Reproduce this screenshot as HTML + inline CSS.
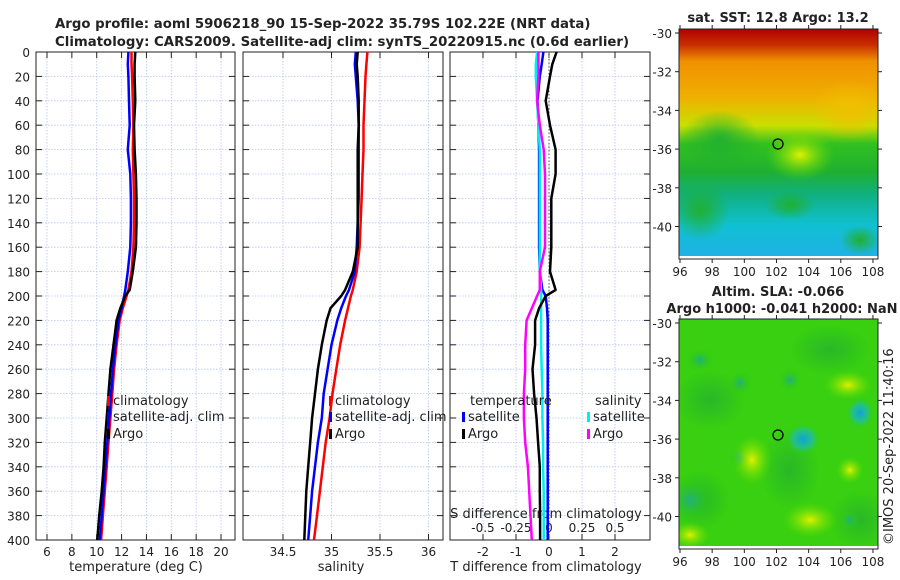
<!DOCTYPE html>
<html><head><meta charset="utf-8"><style>
body{margin:0;background:#fff;width:900px;height:580px;overflow:hidden}
svg{display:block;font-family:"DejaVu Sans","Liberation Sans",sans-serif}
text{fill:#222}
</style></head><body>
<svg id="s" width="900" height="580">
<defs>
<linearGradient id="sstg" x1="0" y1="0" x2="0" y2="1">
<stop offset="0" stop-color="#b00000"/><stop offset="0.07" stop-color="#c83000"/><stop offset="0.14" stop-color="#f09000"/><stop offset="0.3" stop-color="#f0b000"/><stop offset="0.42" stop-color="#c8e000"/><stop offset="0.5" stop-color="#30c020"/><stop offset="0.62" stop-color="#20b030"/><stop offset="0.72" stop-color="#10b080"/><stop offset="0.85" stop-color="#10c0d0"/><stop offset="1" stop-color="#20b0e8"/>
</linearGradient>
<radialGradient id="bl"><stop offset="0" stop-color="#10a0e0"/><stop offset="0.6" stop-color="#20c0a0" stop-opacity="0.7"/><stop offset="1" stop-color="#30d000" stop-opacity="0"/></radialGradient>
<radialGradient id="tl"><stop offset="0" stop-color="#20b080"/><stop offset="1" stop-color="#30d000" stop-opacity="0"/></radialGradient>
<radialGradient id="yl"><stop offset="0" stop-color="#e0f000"/><stop offset="1" stop-color="#60e000" stop-opacity="0"/></radialGradient>
<radialGradient id="yo"><stop offset="0" stop-color="#f0c000"/><stop offset="1" stop-color="#f0c000" stop-opacity="0"/></radialGradient>
<radialGradient id="gr"><stop offset="0" stop-color="#20b030"/><stop offset="1" stop-color="#20b030" stop-opacity="0"/></radialGradient>
<radialGradient id="dg"><stop offset="0" stop-color="#28b828"/><stop offset="1" stop-color="#28b828" stop-opacity="0"/></radialGradient>
<clipPath id="c1"><rect x="679" y="29" width="199" height="230"/></clipPath>
<clipPath id="c2"><rect x="679" y="319" width="199" height="230"/></clipPath>
</defs>
<text x="55" y="28" font-size="13.3" font-weight="bold">Argo profile: aoml 5906218_90 15-Sep-2022 35.79S 102.22E (NRT data)</text>
<text x="55" y="46" font-size="13.3" font-weight="bold">Climatology: CARS2009. Satellite-adj clim: synTS_20220915.nc (0.6d earlier)</text>
<g id="p1"></g>
<g id="p2"></g>
<g id="p3"></g>
<g>
<text x="778" y="22" font-size="13" font-weight="bold" text-anchor="middle">sat. SST: 12.8 Argo: 13.2</text>
<g clip-path="url(#c1)">
<rect x="679" y="29" width="199" height="230" fill="url(#sstg)"/>
<ellipse cx="800" cy="155" rx="35" ry="25" fill="url(#yl)"/>
<ellipse cx="720" cy="140" rx="40" ry="30" fill="url(#gr)"/>
<ellipse cx="850" cy="110" rx="40" ry="30" fill="url(#yo)"/>
<ellipse cx="700" cy="210" rx="30" ry="30" fill="url(#gr)"/>
<ellipse cx="790" cy="205" rx="25" ry="15" fill="url(#gr)"/>
<ellipse cx="860" cy="240" rx="20" ry="15" fill="url(#gr)"/>
<rect x="679" y="256" width="199" height="3" fill="#fff"/>
</g>
<rect x="679" y="29" width="199" height="230" fill="none" stroke="#222"/>
<circle cx="778" cy="144" r="5" fill="none" stroke="#000" stroke-width="1.3"/>
</g>
<g>
<text x="778" y="296" font-size="13" font-weight="bold" text-anchor="middle">Altim. SLA: -0.066</text>
<text x="782" y="313" font-size="13" font-weight="bold" text-anchor="middle">Argo h1000: -0.041 h2000: NaN</text>
<g clip-path="url(#c2)">
<rect x="679" y="319" width="199" height="230" fill="#38d010"/>
<ellipse cx="710" cy="400" rx="35" ry="30" fill="url(#dg)"/>
<ellipse cx="790" cy="470" rx="30" ry="40" fill="url(#dg)"/>
<ellipse cx="830" cy="350" rx="40" ry="25" fill="url(#dg)"/>
<ellipse cx="860" cy="520" rx="30" ry="30" fill="url(#dg)"/>
<ellipse cx="700" cy="500" rx="30" ry="30" fill="url(#dg)"/>
<ellipse cx="803" cy="439" rx="18" ry="16" fill="url(#bl)"/>
<ellipse cx="860" cy="413" rx="14" ry="16" fill="url(#bl)"/>
<ellipse cx="740" cy="458" rx="10" ry="12" fill="url(#tl)"/>
<ellipse cx="690" cy="500" rx="22" ry="22" fill="url(#tl)"/>
<ellipse cx="740" cy="383" rx="12" ry="12" fill="url(#tl)"/>
<ellipse cx="790" cy="380" rx="12" ry="12" fill="url(#tl)"/>
<ellipse cx="700" cy="360" rx="14" ry="12" fill="url(#tl)"/>
<ellipse cx="848" cy="385" rx="25" ry="15" fill="url(#yl)"/>
<ellipse cx="752" cy="460" rx="20" ry="26" fill="url(#yl)"/>
<ellipse cx="810" cy="520" rx="28" ry="18" fill="url(#yl)"/>
<ellipse cx="850" cy="470" rx="14" ry="14" fill="url(#yl)"/>
<ellipse cx="690" cy="535" rx="20" ry="14" fill="url(#yl)"/>
<ellipse cx="850" cy="520" rx="10" ry="10" fill="url(#tl)"/>
<rect x="679" y="546" width="199" height="3" fill="#fff"/>
</g>
<rect x="679" y="319" width="199" height="230" fill="none" stroke="#222"/>
<circle cx="778" cy="435" r="5" fill="none" stroke="#000" stroke-width="1.3"/>
</g>
<text transform="translate(893,545) rotate(-90)" font-size="13">©IMOS 20-Sep-2022 11:40:16</text>
<g id="maxes"></g>
</svg>
<script>
const depths=[0,10,20,40,60,80,100,120,140,160,180,195,200,210,220,240,260,280,300,320,340,360,380,400];
const tClim=[12.8,12.8,12.85,12.9,12.95,12.9,12.95,13.0,13.0,12.95,12.8,12.55,12.4,12.1,11.85,11.6,11.4,11.25,11.1,10.95,10.8,10.65,10.5,10.35];
const tSat=[12.55,12.5,12.55,12.6,12.65,12.5,12.7,12.75,12.75,12.7,12.5,12.3,12.2,12.0,11.75,11.5,11.3,11.15,11.0,10.85,10.7,10.55,10.4,10.25];
const tArgo=[13.1,13.05,13.05,13.1,13.0,13.05,13.15,13.2,13.2,13.15,12.9,12.65,12.3,11.9,11.6,11.35,11.1,10.95,10.8,10.65,10.55,10.4,10.2,10.05];
const sClim=[35.37,35.36,35.35,35.34,35.33,35.33,35.32,35.31,35.3,35.29,35.26,35.22,35.2,35.17,35.14,35.09,35.05,35.01,34.98,34.94,34.91,34.88,34.85,34.82];
const sSat=[35.25,35.24,35.25,35.27,35.28,35.28,35.28,35.28,35.27,35.26,35.24,35.18,35.15,35.1,35.06,35.0,34.96,34.92,34.9,34.86,34.83,34.8,34.78,34.76];
const sArgo=[35.27,35.26,35.27,35.28,35.28,35.27,35.27,35.27,35.27,35.27,35.22,35.14,35.1,34.99,34.95,34.9,34.86,34.83,34.8,34.78,34.76,34.74,34.73,34.72];
const dTSat=[-0.17,-0.22,-0.28,-0.35,-0.32,-0.3,-0.3,-0.3,-0.3,-0.3,-0.28,-0.2,-0.1,-0.06,-0.04,-0.04,-0.04,-0.04,-0.04,-0.04,-0.04,-0.04,-0.04,-0.04];
const dTArgo=[0.23,0.1,0.03,-0.1,0.03,0.2,0.2,0.07,0.07,0.07,0.03,0.2,-0.1,-0.3,-0.42,-0.42,-0.5,-0.45,-0.38,-0.33,-0.28,-0.28,-0.27,-0.27];
const dSSat=[-0.09,-0.1,-0.1,-0.09,-0.08,-0.07,-0.07,-0.07,-0.07,-0.07,-0.07,-0.06,-0.06,-0.06,-0.06,-0.06,-0.055,-0.05,-0.05,-0.045,-0.045,-0.04,-0.04,-0.04];
const dSArgo=[-0.08,-0.08,-0.08,-0.09,-0.07,-0.04,-0.03,-0.03,-0.03,-0.03,-0.07,-0.07,-0.09,-0.13,-0.17,-0.18,-0.18,-0.19,-0.19,-0.18,-0.16,-0.15,-0.14,-0.13];
const depthTicks=[0,20,40,60,80,100,120,140,160,180,200,220,240,260,280,300,320,340,360,380,400];
const tTicks=[6,8,10,12,14,16,18,20];
const sTicks=[34.5,35,35.5,36];
const dtTicks=[-2,-1,0,1,2];
const dsTicks=[-0.5,-0.25,0,0.25,0.5];
const dsLabels=["-0.5","-0.25","0","0.25","0.5"];
const NS="http://www.w3.org/2000/svg";
const Y0=52,Y1=540;
const yD=d=>Y0+d/400*(Y1-Y0);
function el(p,t,a){const e=document.createElementNS(NS,t);for(const k in a)e.setAttribute(k,a[k]);p.appendChild(e);return e;}
function txt(p,x,y,s,sz,anc){const e=el(p,'text',{x:x,y:y,'font-size':sz,'text-anchor':anc||'middle'});e.textContent=s;return e;}
function panel(g,x0,x1,xs,ticks,labels,name){
 for(const t of ticks){const x=xs(t);el(g,'line',{x1:x,x2:x,y1:Y0,y2:Y1,stroke:'#b8c4ee','stroke-width':0.8,'stroke-dasharray':'1.5,1.5'});}
 for(const d of depthTicks){const y=yD(d);el(g,'line',{x1:x0,x2:x1,y1:y,y2:y,stroke:'#b8c4ee','stroke-width':0.8,'stroke-dasharray':'1.5,1.5'});
  el(g,'line',{x1:x0,x2:x0+6,y1:y,y2:y,stroke:'#222'});el(g,'line',{x1:x1-6,x2:x1,y1:y,y2:y,stroke:'#222'});}
 el(g,'rect',{x:x0,y:Y0,width:x1-x0,height:Y1-Y0,fill:'none',stroke:'#222','stroke-width':1});
 ticks.forEach((t,i)=>{const x=xs(t);el(g,'line',{x1:x,x2:x,y1:Y1,y2:Y1-6,stroke:'#222'});el(g,'line',{x1:x,x2:x,y1:Y0,y2:Y0+6,stroke:'#222'});
  if(labels){const e=txt(g,x,Y1+16,labels[i],12);}});
}
function line(g,xs,vals,col,w,name){
 const pts=vals.map((v,i)=>xs(v).toFixed(1)+','+yD(depths[i]).toFixed(1)).join(' ');
 const e=el(g,'polyline',{points:pts,fill:'none',stroke:col,'stroke-width':w,'stroke-linejoin':'round'});
 
 
}
function leg(g,x,y,col,lab,name){el(g,'rect',{x:x,y:y-9,width:3,height:10,fill:col});const e=txt(g,x+6,y,lab,13,'start');}
const p1=document.getElementById('p1');
const xT=t=>47+(t-6)*12.43;
panel(p1,36,235,xT,tTicks,tTicks.map(String),'temperature');
depthTicks.forEach(d=>{const e=txt(p1,30,yD(d)+5,String(d),12,'end');});
line(p1,xT,tClim,'#f00',2.5,'temperature-climatology-line');
line(p1,xT,tSat,'#00f',2.5,'temperature-satellite-line');
line(p1,xT,tArgo,'#000',2.5,'temperature-argo-line');
txt(p1,136,571,'temperature (deg C)',13);
leg(p1,107,405,'#f00','climatology','legend-climatology');
leg(p1,107,421,'#00f','satellite-adj. clim','legend-satellite');
leg(p1,107,438,'#000','Argo','legend-argo');
const p2=document.getElementById('p2');
const xS=s=>283+(s-34.5)*97;
panel(p2,243,443,xS,sTicks,sTicks.map(String),'salinity');
line(p2,xS,sClim,'#f00',2.5,'salinity-climatology-line');
line(p2,xS,sSat,'#00f',2.5,'salinity-satellite-line');
line(p2,xS,sArgo,'#000',2.5,'salinity-argo-line');
txt(p2,341,571,'salinity',13);
leg(p2,329,405,'#f00','climatology','legend-climatology-2');
leg(p2,329,421,'#00f','satellite-adj. clim','legend-satellite-2');
leg(p2,329,438,'#000','Argo','legend-argo-2');
const p3=document.getElementById('p3');
const xDT=t=>549+t*33;
const xDS=s=>549+s*132;
panel(p3,450,650,xDT,dtTicks,dtTicks.map(String),'t-diff');
dsTicks.forEach((s,i)=>{const e=txt(p3,xDS(s),532,dsLabels[i],12);});
txt(p3,546,518,'S difference from climatology',13);
txt(p3,546,571,'T difference from climatology',13);
el(p3,'line',{x1:xDT(0),x2:xDT(0),y1:Y0,y2:Y1,stroke:'#555','stroke-dasharray':'1.5,2'});
line(p3,xDT,dTSat,'#00f',2.5,'t-diff-satellite-line');
line(p3,xDS,dSSat,'#0ee',2.5,'s-diff-satellite-line');
line(p3,xDS,dSArgo,'#f0f',2.5,'s-diff-argo-line');
line(p3,xDT,dTArgo,'#000',2.5,'t-diff-argo-line');
txt(p3,470,405,'temperature',13,'start');
leg(p3,462,421,'#00f','satellite','legend-t-satellite');
leg(p3,462,438,'#000','Argo','legend-t-argo');
txt(p3,595,405,'salinity',13,'start');
leg(p3,587,421,'#0ee','satellite','legend-s-satellite');
leg(p3,587,438,'#f0f','Argo','legend-s-argo');
const mx=document.getElementById('maxes');
const lonTicks=[96,98,100,102,104,106,108];
const latTicks=[-30,-32,-34,-36,-38,-40];
function maxis(top,bot,y30){
 lonTicks.forEach(l=>{const x=680+(l-96)*16.08;el(mx,'line',{x1:x,x2:x,y1:bot,y2:bot+4,stroke:'#222'});el(mx,'line',{x1:x,x2:x,y1:top,y2:top-4,stroke:'#222'});
  const e=txt(mx,x,bot+17,String(l),12);});
 latTicks.forEach(l=>{const y=y30+(-30-l)*19.35;el(mx,'line',{x1:675,x2:679,y1:y,y2:y,stroke:'#222'});el(mx,'line',{x1:878,x2:882,y1:y,y2:y,stroke:'#222'});
  const e=txt(mx,672,y+5,String(l),12,'end');});
}
maxis(29,259,33);
maxis(319,549,323);
</script>
</body></html>
